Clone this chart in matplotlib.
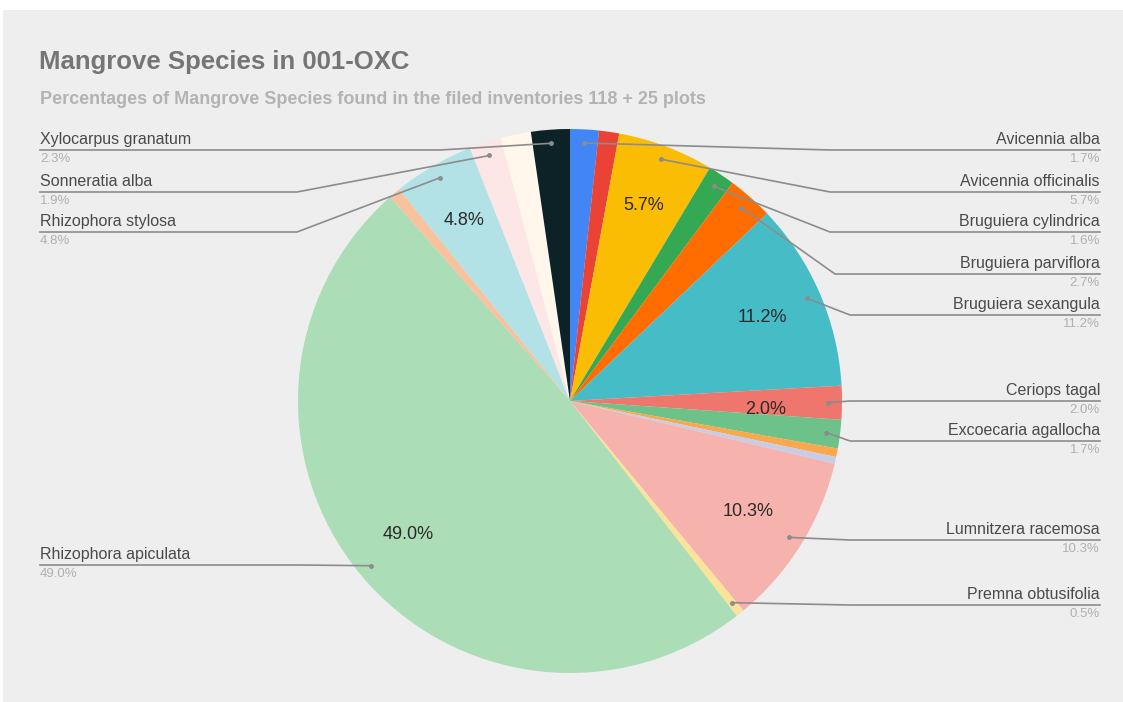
import numpy as np
import matplotlib.pyplot as plt
from matplotlib.patches import Rectangle

plt.rcParams['font.family'] = ['Liberation Sans', 'DejaVu Sans']

# share of each species (%), clockwise from 12 o'clock; '' = slice without a callout
species = ['Avicennia alba', '', 'Avicennia officinalis', 'Bruguiera cylindrica',
           'Bruguiera parviflora', 'Bruguiera sexangula', 'Ceriops tagal',
           'Excoecaria agallocha', '', '', 'Lumnitzera racemosa', 'Premna obtusifolia',
           'Rhizophora apiculata', '', 'Rhizophora stylosa', 'Sonneratia alba', '',
           'Xylocarpus granatum']
share = [1.7, 1.2, 5.7, 1.6, 2.7, 11.2, 2.0, 1.7, 0.5, 0.4, 10.3, 0.5,
         49.0, 0.7, 4.8, 1.9, 1.8, 2.3]
colors = ['#4285F4', '#EA4335', '#FBBC04', '#34A853', '#FF6D01', '#46BDC6',
          '#EE766D', '#6DC28A', '#F9A94B', '#C9CCE6', '#F6B3AD', '#FBE39A',
          '#ABDDB7', '#F8C29E', '#B3E2E6', '#FCE6E6', '#FFF7EC', '#0C2227']
inside = {'Avicennia officinalis', 'Bruguiera sexangula', 'Ceriops tagal',
          'Lumnitzera racemosa', 'Rhizophora apiculata', 'Rhizophora stylosa'}

# callout placement in pixels: (side, line y, elbow x)
callouts = {
    'Xylocarpus granatum': ('left', 150, 440),
    'Sonneratia alba': ('left', 192, 297),
    'Rhizophora stylosa': ('left', 232, 297),
    'Rhizophora apiculata': ('left', 565, 300),
    'Avicennia alba': ('right', 150, 830),
    'Avicennia officinalis': ('right', 192, 830),
    'Bruguiera cylindrica': ('right', 232, 830),
    'Bruguiera parviflora': ('right', 274, 835),
    'Bruguiera sexangula': ('right', 315, 850),
    'Ceriops tagal': ('right', 401, 850),
    'Excoecaria agallocha': ('right', 441, 850),
    'Lumnitzera racemosa': ('right', 540, 850),
    'Premna obtusifolia': ('right', 605, 850),
}

W, H = 1123, 702
cx, cy, r = 570, 401, 272

fig = plt.figure(figsize=(W / 100, H / 100), dpi=100)
fig.patch.set_facecolor('white')
fig.patches.append(Rectangle((3 / W, 0), 1, (H - 10) / H, transform=fig.transFigure,
                             facecolor='#EEEEEE', edgecolor='none', zorder=-10))

ax = fig.add_axes([(cx - r) / W, (H - cy - r) / H, 2 * r / W, 2 * r / H])
wedges, _, autotexts = ax.pie(share, colors=colors, startangle=90, counterclock=False,
                              autopct='%1.1f%%', pctdistance=0.77,
                              wedgeprops=dict(linewidth=0),
                              textprops=dict(fontsize=13, color='#2a2a2a'))
for name, t in zip(species, autotexts):
    if name not in inside:
        t.set_visible(False)
    elif name == 'Ceriops tagal':
        x, y = t.get_position()
        t.set_position((x * 0.72 / 0.77, y * 0.72 / 0.77 - 0.025))
ax.set_xlim(-1, 1)
ax.set_ylim(-1, 1)
ax.set_aspect('equal')
ax.axis('off')

# overlay in pixel coordinates for titles and callouts
ov = fig.add_axes([0, 0, 1, 1])
ov.set_xlim(0, W)
ov.set_ylim(H, 0)
ov.axis('off')
ov.patch.set_alpha(0)

ov.text(39, 62, 'Mangrove Species in 001-OXC', fontsize=18.5, fontweight='bold',
        color='#757575', va='center')
ov.text(40, 99, 'Percentages of Mangrove Species found in the filed inventories 118 + 25 plots',
        fontsize=13, fontweight='bold', color='#B3B3B3', va='center')

for name, val, w in zip(species, share, wedges):
    if name not in callouts:
        continue
    side, ly, ex = callouts[name]
    mid = np.radians((w.theta1 + w.theta2) / 2)
    px = cx + 0.95 * r * np.cos(mid)
    py = cy - 0.95 * r * np.sin(mid)
    if side == 'left':
        ov.plot([40, ex, px], [ly, ly, py], color='#8c8c8c', lw=1.2)
        ov.text(40, ly - 3, name, fontsize=11.5, color='#4a4a4a', ha='left', va='bottom')
        ov.text(40, ly + 3, f'{val:.1f}%', fontsize=9.5, color='#b0b0b0', ha='left', va='top')
    else:
        ov.plot([1100, ex, px], [ly, ly, py], color='#8c8c8c', lw=1.2)
        ov.text(1100, ly - 3, name, fontsize=11.5, color='#4a4a4a', ha='right', va='bottom')
        ov.text(1100, ly + 3, f'{val:.1f}%', fontsize=9.5, color='#b0b0b0', ha='right', va='top')
    ov.plot(px, py, 'o', ms=2.5, color='#8c8c8c')

fig.savefig('out.png', dpi=100)
